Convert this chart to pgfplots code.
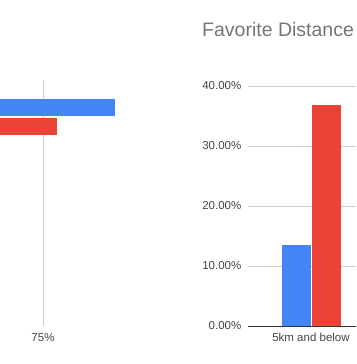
\documentclass[border=0pt]{standalone}
\usepackage{pgfplots}
\pgfplotsset{compat=1.18}
\usepackage{fontspec}
\setmainfont{Liberation Sans}
\definecolor{gblue}{HTML}{4285F4}
\definecolor{gred}{HTML}{EA4335}
\definecolor{gridc}{HTML}{CCCCCC}
\definecolor{labc}{HTML}{444444}
\definecolor{titc}{HTML}{757575}
\definecolor{axc}{HTML}{333333}
\begin{document}
\begin{tikzpicture}[x=1pt,y=1pt]
\path[use as bounding box, clip] (0,0) rectangle (356,364);
% left chart (cropped)
\begin{axis}[at={(-137pt,38pt)}, anchor=south west,
  scale only axis, width=264pt, height=246pt,
  xmin=0, xmax=110, ymin=-0.85, ymax=0.15,
  axis line style={draw=none}, major tick length=0pt,
  xtick={75}, xticklabels={75\%},
  ytick=\empty,
  xmajorgrids, grid style={gridc, line width=0.8pt},
  tick label style={font=\fontsize{11.5}{13}\selectfont, text=labc},
  xticklabel style={anchor=base, inner sep=0pt, yshift=-15pt},
  clip=false]
\addplot[xbar, fill=gblue, draw=none, bar width=17pt, bar shift=9.5pt] coordinates {(105,0)};
\addplot[xbar, fill=gred, draw=none, bar width=17pt, bar shift=-9.5pt] coordinates {(80.8,0)};
\end{axis}
% right chart
\begin{axis}[at={(248pt,38pt)}, anchor=south west,
  scale only axis, width=378pt, height=240pt,
  xmin=-0.5, xmax=2.5, ymin=0, ymax=40,
  axis x line*=bottom, axis y line*=left,
  x axis line style={axc, line width=0.8pt},
  y axis line style={draw=none},
  major tick length=0pt,
  xtick={0}, xticklabels={5km and below},
  ytick={0,10,20,30,40},
  yticklabels={0.00\%,10.00\%,20.00\%,30.00\%,40.00\%},
  ymajorgrids, grid style={gridc, line width=0.8pt},
  tick label style={font=\fontsize{11.5}{13}\selectfont, text=labc},
  xticklabel style={anchor=base, inner sep=0pt, yshift=-15pt},
  yticklabel style={anchor=east, inner sep=0pt, xshift=-6.5pt},
  clip=false]
\addplot[ybar, fill=gblue, draw=none, bar width=29pt, bar shift=-15pt] coordinates {(0,13.5)};
\addplot[ybar, fill=gred, draw=none, bar width=29pt, bar shift=15pt] coordinates {(0,36.8)};
\end{axis}
\node[anchor=base west, inner sep=0pt, text=titc, font=\fontsize{19.5}{24}\selectfont] at (202,327) {Favorite Distance};
\end{tikzpicture}
\end{document}
